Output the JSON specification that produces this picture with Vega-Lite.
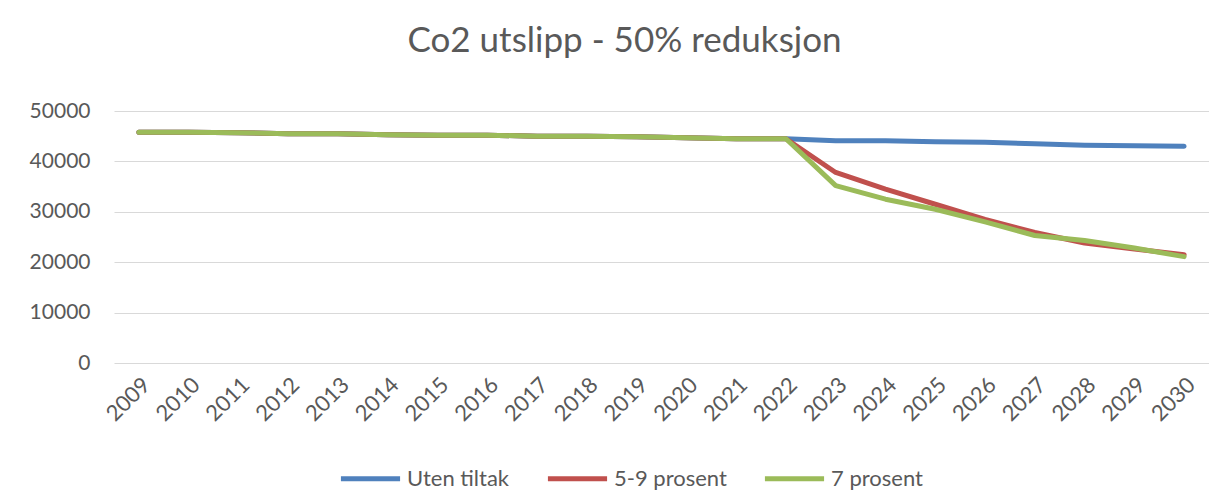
{
  "$schema": "https://vega.github.io/schema/vega-lite/v6.json",
  "autosize": {"type": "none"},
  "width": 1095,
  "height": 252,
  "padding": {"left": 114, "top": 111, "right": 0, "bottom": 138},
  "background": "white",
  "title": {
    "text": "Co2 utslipp - 50% reduksjon",
    "font": "Lato",
    "fontSize": 35,
    "fontWeight": "normal",
    "color": "#595959",
    "anchor": "middle",
    "frame": "group",
    "baseline": "alphabetic",
    "offset": 13,
    "dx": -37
  },
  "config": {
    "view": {"stroke": null},
    "font": "Lato"
  },
  "data": {
    "values": [
      {"year": "2009", "serie": "Uten tiltak", "value": 45800},
      {"year": "2010", "serie": "Uten tiltak", "value": 45800},
      {"year": "2011", "serie": "Uten tiltak", "value": 45700},
      {"year": "2012", "serie": "Uten tiltak", "value": 45500},
      {"year": "2013", "serie": "Uten tiltak", "value": 45500},
      {"year": "2014", "serie": "Uten tiltak", "value": 45300},
      {"year": "2015", "serie": "Uten tiltak", "value": 45200},
      {"year": "2016", "serie": "Uten tiltak", "value": 45200},
      {"year": "2017", "serie": "Uten tiltak", "value": 45000},
      {"year": "2018", "serie": "Uten tiltak", "value": 45000},
      {"year": "2019", "serie": "Uten tiltak", "value": 44900},
      {"year": "2020", "serie": "Uten tiltak", "value": 44700},
      {"year": "2021", "serie": "Uten tiltak", "value": 44500},
      {"year": "2022", "serie": "Uten tiltak", "value": 44500},
      {"year": "2023", "serie": "Uten tiltak", "value": 44100},
      {"year": "2024", "serie": "Uten tiltak", "value": 44100},
      {"year": "2025", "serie": "Uten tiltak", "value": 43900},
      {"year": "2026", "serie": "Uten tiltak", "value": 43800},
      {"year": "2027", "serie": "Uten tiltak", "value": 43500},
      {"year": "2028", "serie": "Uten tiltak", "value": 43200},
      {"year": "2029", "serie": "Uten tiltak", "value": 43100},
      {"year": "2030", "serie": "Uten tiltak", "value": 43000},
      {"year": "2009", "serie": "5-9 prosent", "value": 45800},
      {"year": "2010", "serie": "5-9 prosent", "value": 45800},
      {"year": "2011", "serie": "5-9 prosent", "value": 45700},
      {"year": "2012", "serie": "5-9 prosent", "value": 45500},
      {"year": "2013", "serie": "5-9 prosent", "value": 45500},
      {"year": "2014", "serie": "5-9 prosent", "value": 45300},
      {"year": "2015", "serie": "5-9 prosent", "value": 45200},
      {"year": "2016", "serie": "5-9 prosent", "value": 45200},
      {"year": "2017", "serie": "5-9 prosent", "value": 45000},
      {"year": "2018", "serie": "5-9 prosent", "value": 45000},
      {"year": "2019", "serie": "5-9 prosent", "value": 44900},
      {"year": "2020", "serie": "5-9 prosent", "value": 44700},
      {"year": "2021", "serie": "5-9 prosent", "value": 44500},
      {"year": "2022", "serie": "5-9 prosent", "value": 44500},
      {"year": "2023", "serie": "5-9 prosent", "value": 37800},
      {"year": "2024", "serie": "5-9 prosent", "value": 34500},
      {"year": "2025", "serie": "5-9 prosent", "value": 31500},
      {"year": "2026", "serie": "5-9 prosent", "value": 28500},
      {"year": "2027", "serie": "5-9 prosent", "value": 25900},
      {"year": "2028", "serie": "5-9 prosent", "value": 23800},
      {"year": "2029", "serie": "5-9 prosent", "value": 22600},
      {"year": "2030", "serie": "5-9 prosent", "value": 21500},
      {"year": "2009", "serie": "7 prosent", "value": 45800},
      {"year": "2010", "serie": "7 prosent", "value": 45800},
      {"year": "2011", "serie": "7 prosent", "value": 45700},
      {"year": "2012", "serie": "7 prosent", "value": 45500},
      {"year": "2013", "serie": "7 prosent", "value": 45500},
      {"year": "2014", "serie": "7 prosent", "value": 45300},
      {"year": "2015", "serie": "7 prosent", "value": 45200},
      {"year": "2016", "serie": "7 prosent", "value": 45200},
      {"year": "2017", "serie": "7 prosent", "value": 45000},
      {"year": "2018", "serie": "7 prosent", "value": 45000},
      {"year": "2019", "serie": "7 prosent", "value": 44900},
      {"year": "2020", "serie": "7 prosent", "value": 44700},
      {"year": "2021", "serie": "7 prosent", "value": 44500},
      {"year": "2022", "serie": "7 prosent", "value": 44500},
      {"year": "2023", "serie": "7 prosent", "value": 35200},
      {"year": "2024", "serie": "7 prosent", "value": 32500},
      {"year": "2025", "serie": "7 prosent", "value": 30500},
      {"year": "2026", "serie": "7 prosent", "value": 28000},
      {"year": "2027", "serie": "7 prosent", "value": 25300},
      {"year": "2028", "serie": "7 prosent", "value": 24300},
      {"year": "2029", "serie": "7 prosent", "value": 22800},
      {"year": "2030", "serie": "7 prosent", "value": 21100}
    ]
  },
  "mark": {"type": "line", "strokeWidth": 5, "strokeCap": "round", "strokeJoin": "round"},
  "encoding": {
    "x": {
      "field": "year",
      "type": "ordinal",
      "scale": {"type": "point", "padding": 0.5},
      "axis": {
        "title": null,
        "labelAngle": -45,
        "labelFont": "Lato",
        "labelFontSize": 22,
        "labelColor": "#595959",
        "labelPadding": 11,
        "ticks": false,
        "domain": false,
        "grid": false
      }
    },
    "y": {
      "field": "value",
      "type": "quantitative",
      "scale": {"domain": [0, 50000]},
      "axis": {
        "title": null,
        "values": [0, 10000, 20000, 30000, 40000, 50000],
        "format": "d",
        "labelFont": "Lato",
        "labelFontSize": 21,
        "labelColor": "#595959",
        "labelPadding": 24,
        "ticks": false,
        "domain": false,
        "grid": true,
        "gridColor": "#d9d9d9",
        "gridWidth": 1
      }
    },
    "color": {
      "field": "serie",
      "type": "nominal",
      "scale": {
        "domain": ["Uten tiltak", "5-9 prosent", "7 prosent"],
        "range": ["#4F81BD", "#C0504D", "#9BBB59"]
      },
      "legend": {
        "title": null,
        "orient": "none",
        "direction": "horizontal",
        "legendX": 224,
        "legendY": 335,
        "symbolType": "stroke",
        "symbolSize": 3500,
        "symbolStrokeWidth": 5,
        "labelFont": "Lato",
        "labelFontSize": 22,
        "labelColor": "#595959",
        "labelOffset": 4,
        "columnPadding": 27
      }
    }
  }
}
